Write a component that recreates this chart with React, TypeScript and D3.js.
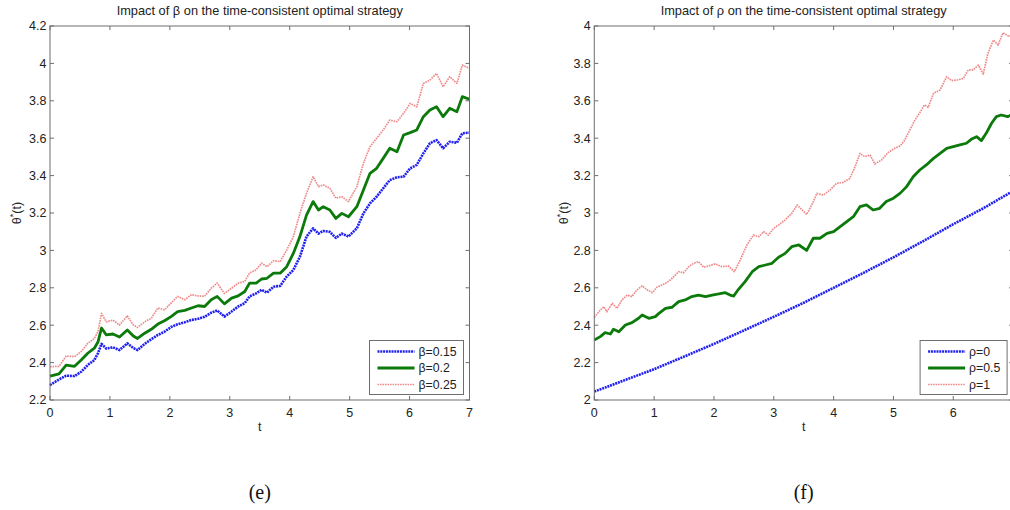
import React from 'react';
import * as d3 from 'd3';

// left panel: impact of beta (t grid shared by the three curves)
const leftT = [0, 0.15, 0.27, 0.41, 0.52, 0.63, 0.74, 0.8, 0.86, 0.94, 1.05, 1.16, 1.29, 1.39, 1.46, 1.58, 1.69, 1.8, 1.91, 2.02, 2.13, 2.25, 2.36, 2.47, 2.58, 2.69, 2.79, 2.91, 3.03, 3.14, 3.25, 3.33, 3.44, 3.53, 3.62, 3.73, 3.84, 3.95, 4.06, 4.17, 4.28, 4.39, 4.48, 4.56, 4.67, 4.77, 4.87, 4.98, 5.12, 5.23, 5.34, 5.45, 5.56, 5.67, 5.79, 5.9, 6.01, 6.12, 6.23, 6.34, 6.45, 6.56, 6.67, 6.79, 6.88, 7];
const beta015 = [2.28, 2.31, 2.33, 2.328, 2.351, 2.387, 2.414, 2.45, 2.5, 2.475, 2.482, 2.467, 2.503, 2.478, 2.467, 2.5, 2.525, 2.548, 2.565, 2.59, 2.605, 2.616, 2.628, 2.634, 2.645, 2.667, 2.679, 2.646, 2.673, 2.7, 2.718, 2.754, 2.77, 2.789, 2.774, 2.806, 2.81, 2.86, 2.895, 2.966, 3.074, 3.118, 3.09, 3.104, 3.099, 3.067, 3.09, 3.074, 3.118, 3.198, 3.252, 3.287, 3.332, 3.376, 3.391, 3.394, 3.439, 3.457, 3.519, 3.573, 3.59, 3.546, 3.581, 3.576, 3.626, 3.63];
const beta02 = [2.328, 2.34, 2.387, 2.38, 2.414, 2.45, 2.477, 2.51, 2.585, 2.548, 2.553, 2.537, 2.574, 2.542, 2.529, 2.557, 2.578, 2.606, 2.624, 2.646, 2.673, 2.679, 2.692, 2.704, 2.7, 2.736, 2.754, 2.714, 2.745, 2.757, 2.78, 2.825, 2.825, 2.847, 2.851, 2.878, 2.878, 2.913, 2.984, 3.074, 3.189, 3.261, 3.216, 3.234, 3.216, 3.171, 3.198, 3.18, 3.234, 3.323, 3.412, 3.439, 3.492, 3.546, 3.528, 3.617, 3.63, 3.644, 3.715, 3.751, 3.768, 3.715, 3.76, 3.742, 3.822, 3.808];
const beta025 = [2.378, 2.38, 2.435, 2.432, 2.459, 2.503, 2.529, 2.565, 2.663, 2.618, 2.627, 2.601, 2.65, 2.601, 2.588, 2.618, 2.637, 2.692, 2.682, 2.718, 2.754, 2.736, 2.763, 2.757, 2.754, 2.798, 2.825, 2.77, 2.798, 2.825, 2.834, 2.879, 2.896, 2.932, 2.913, 2.945, 2.94, 3.002, 3.074, 3.198, 3.305, 3.394, 3.341, 3.35, 3.332, 3.279, 3.287, 3.261, 3.341, 3.466, 3.555, 3.599, 3.644, 3.697, 3.688, 3.733, 3.786, 3.768, 3.893, 3.911, 3.946, 3.875, 3.929, 3.893, 3.991, 3.973];

// right panel: impact of rho
const rho0T = [0, 0.5, 1, 1.5, 2, 2.5, 3, 3.5, 4, 4.5, 5, 5.5, 6, 6.5, 7];
const rho0 = [2.045, 2.105, 2.165, 2.232, 2.3, 2.372, 2.445, 2.52, 2.6, 2.68, 2.763, 2.85, 2.94, 3.025, 3.118];
const rho05T = [0, 0.1, 0.18, 0.27, 0.32, 0.41, 0.52, 0.63, 0.74, 0.8, 0.91, 1.02, 1.08, 1.19, 1.3, 1.41, 1.52, 1.63, 1.74, 1.86, 1.97, 2.08, 2.19, 2.27, 2.33, 2.41, 2.52, 2.64, 2.75, 2.86, 2.97, 3.08, 3.19, 3.3, 3.42, 3.55, 3.66, 3.77, 3.89, 4, 4.11, 4.22, 4.33, 4.44, 4.55, 4.66, 4.77, 4.88, 5, 5.11, 5.22, 5.33, 5.44, 5.55, 5.67, 5.78, 5.89, 6, 6.11, 6.22, 6.3, 6.39, 6.47, 6.55, 6.64, 6.72, 6.8, 6.91, 7];
const rho05 = [2.321, 2.339, 2.36, 2.353, 2.378, 2.365, 2.401, 2.414, 2.437, 2.455, 2.437, 2.446, 2.463, 2.49, 2.496, 2.526, 2.535, 2.553, 2.561, 2.553, 2.561, 2.567, 2.574, 2.561, 2.556, 2.592, 2.633, 2.686, 2.713, 2.722, 2.731, 2.763, 2.784, 2.82, 2.829, 2.8, 2.865, 2.865, 2.891, 2.9, 2.927, 2.954, 2.98, 3.034, 3.043, 3.016, 3.025, 3.061, 3.079, 3.105, 3.141, 3.194, 3.23, 3.257, 3.292, 3.319, 3.346, 3.355, 3.364, 3.373, 3.394, 3.408, 3.387, 3.426, 3.48, 3.515, 3.524, 3.515, 3.53];
const rho1T = [0, 0.1, 0.16, 0.21, 0.3, 0.38, 0.46, 0.55, 0.63, 0.71, 0.8, 0.88, 0.97, 1.05, 1.13, 1.21, 1.3, 1.41, 1.49, 1.58, 1.66, 1.74, 1.83, 1.91, 2.02, 2.13, 2.24, 2.34, 2.44, 2.55, 2.66, 2.75, 2.83, 2.91, 3, 3.08, 3.19, 3.3, 3.39, 3.55, 3.66, 3.72, 3.83, 3.94, 4.05, 4.16, 4.27, 4.36, 4.44, 4.52, 4.61, 4.69, 4.8, 4.91, 5.02, 5.11, 5.19, 5.25, 5.36, 5.44, 5.52, 5.58, 5.67, 5.78, 5.89, 5.97, 6.06, 6.17, 6.25, 6.33, 6.42, 6.5, 6.58, 6.67, 6.75, 6.83, 6.94, 7];
const rho1 = [2.442, 2.481, 2.499, 2.472, 2.517, 2.49, 2.535, 2.561, 2.553, 2.588, 2.61, 2.59, 2.574, 2.604, 2.615, 2.627, 2.651, 2.686, 2.68, 2.713, 2.731, 2.74, 2.71, 2.717, 2.728, 2.713, 2.717, 2.686, 2.749, 2.829, 2.882, 2.873, 2.9, 2.882, 2.918, 2.936, 2.963, 2.998, 3.043, 2.992, 3.06, 3.105, 3.096, 3.123, 3.159, 3.163, 3.185, 3.248, 3.319, 3.301, 3.31, 3.262, 3.283, 3.323, 3.346, 3.358, 3.39, 3.43, 3.497, 3.536, 3.578, 3.565, 3.64, 3.658, 3.729, 3.708, 3.711, 3.72, 3.765, 3.765, 3.791, 3.743, 3.854, 3.925, 3.898, 3.964, 3.943, 3.96];

const xTicks = [0, 1, 2, 3, 4, 5, 6, 7];
const leftYTicks = [2.2, 2.4, 2.6, 2.8, 3, 3.2, 3.4, 3.6, 3.8, 4, 4.2];
const rightYTicks = [2, 2.2, 2.4, 2.6, 2.8, 3, 3.2, 3.4, 3.6, 3.8, 4];
const leftLegend = ['β=0.15', 'β=0.2', 'β=0.25'];
const rightLegend = ['ρ=0', 'ρ=0.5', 'ρ=1'];

const styles = [
  { stroke: '#1f1ff0', width: 2.6, dash: '2 0.8' },
  { stroke: '#0b7a0b', width: 2.8, dash: '' },
  { stroke: '#f08a8a', width: 1.7, dash: '1.6 0.9' },
];

const FONT = 'Liberation Sans, Arial, Helvetica, sans-serif';
const AXIS = '#6e6e6e';
const W = 1010;

type PanelProps = {
  x0: number; x1: number;
  yDomain: [number, number];
  yTicks: number[];
  symbol: string;
  series: { t: number[]; v: number[] }[];
  legend: string[];
  legendW: number;
  ylabelX: number;
  caption: string;
};

function Panel(p: PanelProps) {
  const top = 26, bottom = 400;
  const x = d3.scaleLinear().domain([0, 7]).range([p.x0, p.x1]);
  const y = d3.scaleLinear().domain(p.yDomain).range([bottom, top]);
  const cx = (p.x0 + p.x1) / 2;
  const fmt = (v: number) => String(+v.toFixed(1));
  const tl = 4;
  const lgRight = p.x1 - 6;
  const lgLeft = lgRight - p.legendW;
  const lgTop = 340.5;
  return (
    <g>
      <text x={cx} y={15} textAnchor="middle" fontSize={12.8} fontFamily={FONT} fill="#222">
        {'Impact of ' + p.symbol + ' on the time-consistent optimal strategy'}
      </text>
      {p.series.map((s, k) => {
        const pts = s.t.map((t, i) => [x(t), y(s.v[i])] as [number, number]);
        const d = d3.line()(pts) || '';
        const st = styles[k];
        return (
          <path key={k} d={d} fill="none" stroke={st.stroke} strokeWidth={st.width}
            strokeDasharray={st.dash || undefined} strokeLinejoin="round" />
        );
      })}
      <rect x={p.x0} y={top} width={p.x1 - p.x0} height={bottom - top} fill="none" stroke={AXIS} strokeWidth={1} />
      {xTicks.map((t) => (
        <g key={'x' + t}>
          <line x1={x(t)} x2={x(t)} y1={bottom} y2={bottom - tl} stroke={AXIS} />
          <line x1={x(t)} x2={x(t)} y1={top} y2={top + tl} stroke={AXIS} />
          {x(t) < W - 6 && (
            <text x={x(t)} y={416.5} textAnchor="middle" fontSize={12.5} fontFamily={FONT} fill="#222">{t}</text>
          )}
        </g>
      ))}
      {p.yTicks.map((v) => (
        <g key={'y' + v}>
          <line x1={p.x0} x2={p.x0 + tl} y1={y(v)} y2={y(v)} stroke={AXIS} />
          <line x1={p.x1} x2={p.x1 - tl} y1={y(v)} y2={y(v)} stroke={AXIS} />
          <text x={p.x0 - 3.5} y={y(v) + 4.4} textAnchor="end" fontSize={12.5} fontFamily={FONT} fill="#222">{fmt(v)}</text>
        </g>
      ))}
      <text x={cx} y={431} textAnchor="middle" fontSize={12.5} fontFamily={FONT} fill="#222">t</text>
      <text transform={`translate(${p.ylabelX},213) rotate(-90)`} textAnchor="middle" fontSize={12.5} fontFamily={FONT} fill="#222">
        θ<tspan dy={-5} fontSize={9}>*</tspan><tspan dy={5}>(t)</tspan>
      </text>
      <rect x={lgLeft} y={lgTop} width={p.legendW} height={54} fill="#fff" stroke={AXIS} strokeWidth={1} />
      {p.legend.map((lab, k) => {
        const yy = lgTop + 11 + k * 16.5;
        const st = styles[k];
        return (
          <g key={lab}>
            <line x1={lgLeft + 8} x2={lgLeft + 45} y1={yy} y2={yy} stroke={st.stroke} strokeWidth={st.width}
              strokeDasharray={st.dash || undefined} />
            <text x={lgLeft + 49} y={yy + 4.4} fontSize={12.3} fontFamily={FONT} fill="#222">{lab}</text>
          </g>
        );
      })}
      <text x={cx} y={499} textAnchor="middle" fontSize={20} fontFamily="Liberation Serif, Times New Roman, serif" fill="#111">
        {p.caption}
      </text>
    </g>
  );
}

export default function App() {
  return (
    <svg width={W} height={510} style={{ position: 'absolute', left: 0, top: 0, background: '#fff' }}>
      <rect x={0} y={0} width={W} height={510} fill="#fff" />
      <Panel x0={50} x1={469.5} yDomain={[2.2, 4.2]} yTicks={leftYTicks} symbol="β"
        series={[{ t: leftT, v: beta015 }, { t: leftT, v: beta02 }, { t: leftT, v: beta025 }]}
        legend={leftLegend} legendW={94} ylabelX={21} caption="(e)" />
      <Panel x0={594.3} x1={1013.1} yDomain={[2, 4]} yTicks={rightYTicks} symbol="ρ"
        series={[{ t: rho0T, v: rho0 }, { t: rho05T, v: rho05 }, { t: rho1T, v: rho1 }]}
        legend={rightLegend} legendW={87} ylabelX={568} caption="(f)" />
    </svg>
  );
}
